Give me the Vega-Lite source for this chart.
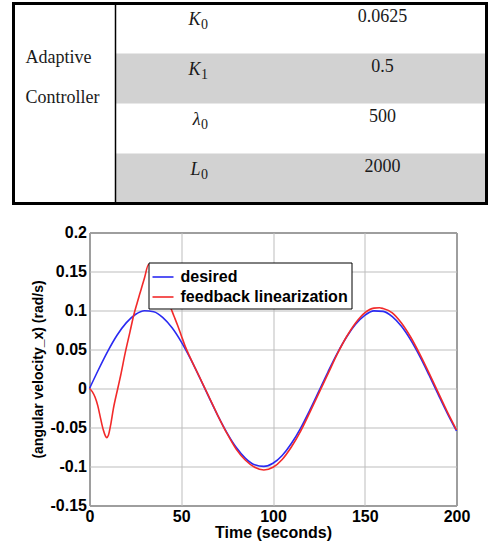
{
  "$schema": "https://vega.github.io/schema/vega-lite/v6.json",
  "background": "white",
  "padding": {"left": 11.5, "top": 1.5, "right": 0, "bottom": 0},
  "spacing": 18,
  "config": {"font": "Liberation Sans", "view": {"stroke": null}},
  "resolve": {"legend": {"color": "independent"}, "scale": {"x": "independent", "y": "independent"}},
  "datasets": {
    "params": [
      {"row": 1, "sym": "K", "sub": "0", "value": "0.0625"},
      {"row": 2, "sym": "K", "sub": "1", "value": "0.5"},
      {"row": 3, "sym": "λ", "sub": "0", "value": "500"},
      {"row": 4, "sym": "L", "sub": "0", "value": "2000"}
    ],
    "curves": [
      {"series": "desired", "t": 0, "v": 0},
      {"series": "desired", "t": 5, "v": 0.0247},
      {"series": "desired", "t": 10, "v": 0.0479},
      {"series": "desired", "t": 15, "v": 0.0682},
      {"series": "desired", "t": 20, "v": 0.0841},
      {"series": "desired", "t": 25, "v": 0.0949},
      {"series": "desired", "t": 30, "v": 0.0997},
      {"series": "desired", "t": 35, "v": 0.0984},
      {"series": "desired", "t": 40, "v": 0.0909},
      {"series": "desired", "t": 45, "v": 0.0778},
      {"series": "desired", "t": 50, "v": 0.0598},
      {"series": "desired", "t": 55, "v": 0.0382},
      {"series": "desired", "t": 60, "v": 0.0141},
      {"series": "desired", "t": 65, "v": -0.0108},
      {"series": "desired", "t": 70, "v": -0.0351},
      {"series": "desired", "t": 75, "v": -0.0572},
      {"series": "desired", "t": 80, "v": -0.0757},
      {"series": "desired", "t": 85, "v": -0.0895},
      {"series": "desired", "t": 90, "v": -0.0978},
      {"series": "desired", "t": 95, "v": -0.0999},
      {"series": "desired", "t": 100, "v": -0.0959},
      {"series": "desired", "t": 105, "v": -0.0859},
      {"series": "desired", "t": 110, "v": -0.0706},
      {"series": "desired", "t": 115, "v": -0.051},
      {"series": "desired", "t": 120, "v": -0.0279},
      {"series": "desired", "t": 125, "v": -0.0033},
      {"series": "desired", "t": 130, "v": 0.0215},
      {"series": "desired", "t": 135, "v": 0.045},
      {"series": "desired", "t": 140, "v": 0.0657},
      {"series": "desired", "t": 145, "v": 0.0823},
      {"series": "desired", "t": 150, "v": 0.0938},
      {"series": "desired", "t": 155, "v": 0.0995},
      {"series": "desired", "t": 160, "v": 0.0989},
      {"series": "desired", "t": 165, "v": 0.0923},
      {"series": "desired", "t": 170, "v": 0.0798},
      {"series": "desired", "t": 175, "v": 0.0624},
      {"series": "desired", "t": 180, "v": 0.0412},
      {"series": "desired", "t": 185, "v": 0.0174},
      {"series": "desired", "t": 190, "v": -0.0075},
      {"series": "desired", "t": 195, "v": -0.0319},
      {"series": "desired", "t": 200, "v": -0.0544},
      {"series": "feedback linearization", "t": 0, "v": 0},
      {"series": "feedback linearization", "t": 1.5, "v": -0.004},
      {"series": "feedback linearization", "t": 3, "v": -0.011},
      {"series": "feedback linearization", "t": 4.5, "v": -0.022},
      {"series": "feedback linearization", "t": 6, "v": -0.038},
      {"series": "feedback linearization", "t": 7.5, "v": -0.053},
      {"series": "feedback linearization", "t": 8.7, "v": -0.061},
      {"series": "feedback linearization", "t": 9.4, "v": -0.063},
      {"series": "feedback linearization", "t": 10.3, "v": -0.06},
      {"series": "feedback linearization", "t": 11.5, "v": -0.047},
      {"series": "feedback linearization", "t": 13, "v": -0.026},
      {"series": "feedback linearization", "t": 15.4, "v": 0},
      {"series": "feedback linearization", "t": 17, "v": 0.017},
      {"series": "feedback linearization", "t": 19.4, "v": 0.045},
      {"series": "feedback linearization", "t": 22, "v": 0.072},
      {"series": "feedback linearization", "t": 24, "v": 0.093},
      {"series": "feedback linearization", "t": 26, "v": 0.11},
      {"series": "feedback linearization", "t": 28, "v": 0.126},
      {"series": "feedback linearization", "t": 30, "v": 0.142},
      {"series": "feedback linearization", "t": 32.2, "v": 0.159},
      {"series": "feedback linearization", "t": 35, "v": 0.147},
      {"series": "feedback linearization", "t": 38, "v": 0.134},
      {"series": "feedback linearization", "t": 40, "v": 0.125},
      {"series": "feedback linearization", "t": 43.3, "v": 0.109},
      {"series": "feedback linearization", "t": 46, "v": 0.093},
      {"series": "feedback linearization", "t": 48, "v": 0.081},
      {"series": "feedback linearization", "t": 50, "v": 0.068},
      {"series": "feedback linearization", "t": 52, "v": 0.055},
      {"series": "feedback linearization", "t": 55, "v": 0.039},
      {"series": "feedback linearization", "t": 60, "v": 0.0145},
      {"series": "feedback linearization", "t": 65, "v": -0.01},
      {"series": "feedback linearization", "t": 70, "v": -0.035},
      {"series": "feedback linearization", "t": 75, "v": -0.058},
      {"series": "feedback linearization", "t": 80, "v": -0.078},
      {"series": "feedback linearization", "t": 85, "v": -0.092},
      {"series": "feedback linearization", "t": 90, "v": -0.101},
      {"series": "feedback linearization", "t": 95, "v": -0.1044},
      {"series": "feedback linearization", "t": 100, "v": -0.101},
      {"series": "feedback linearization", "t": 105, "v": -0.091},
      {"series": "feedback linearization", "t": 110, "v": -0.075},
      {"series": "feedback linearization", "t": 115, "v": -0.055},
      {"series": "feedback linearization", "t": 120, "v": -0.031},
      {"series": "feedback linearization", "t": 125, "v": -0.006},
      {"series": "feedback linearization", "t": 130, "v": 0.019},
      {"series": "feedback linearization", "t": 135, "v": 0.044},
      {"series": "feedback linearization", "t": 140, "v": 0.066},
      {"series": "feedback linearization", "t": 145, "v": 0.084},
      {"series": "feedback linearization", "t": 150, "v": 0.097},
      {"series": "feedback linearization", "t": 155, "v": 0.103},
      {"series": "feedback linearization", "t": 158, "v": 0.1035},
      {"series": "feedback linearization", "t": 160, "v": 0.1025},
      {"series": "feedback linearization", "t": 165, "v": 0.097},
      {"series": "feedback linearization", "t": 170, "v": 0.084},
      {"series": "feedback linearization", "t": 175, "v": 0.066},
      {"series": "feedback linearization", "t": 180, "v": 0.044},
      {"series": "feedback linearization", "t": 185, "v": 0.02},
      {"series": "feedback linearization", "t": 190, "v": -0.005},
      {"series": "feedback linearization", "t": 195, "v": -0.03},
      {"series": "feedback linearization", "t": 200, "v": -0.053}
    ]
  },
  "vconcat": [
    {
      "width": 397,
      "height": 200,
      "data": {"name": "params"},
      "encoding": {
        "x": {"datum": 0, "type": "quantitative", "scale": {"domain": [76, 473], "nice": false, "zero": false}, "axis": null},
        "y": {"field": "row", "type": "ordinal", "scale": {"domain": [1, 2, 3, 4], "paddingInner": 0, "paddingOuter": 0}, "axis": null}
      },
      "layer": [
        {
          "transform": [{"filter": "datum.row % 2 == 0"}],
          "mark": {"type": "rect", "fill": "#d2d2d2"},
          "encoding": {"x": {"datum": 102, "type": "quantitative"}, "x2": {"datum": 473}}
        },
        {
          "data": {"values": [{"part": "divider"}]},
          "mark": {"type": "rule", "stroke": "black", "strokeWidth": 1.5},
          "encoding": {"x": {"datum": 102, "type": "quantitative"}, "y": null}
        },
        {
          "mark": {"type": "text", "font": "Liberation Serif", "fontSize": 18, "fontStyle": "italic", "align": "right", "baseline": "middle", "color": "#1a1a1a"},
          "encoding": {"x": {"datum": 187, "type": "quantitative"}, "y": {"field": "row", "type": "ordinal", "bandPosition": 0.32}, "text": {"field": "sym"}}
        },
        {
          "mark": {"type": "text", "font": "Liberation Serif", "fontSize": 14, "align": "left", "baseline": "middle", "dy": 5, "color": "#1a1a1a"},
          "encoding": {"x": {"datum": 187.5, "type": "quantitative"}, "y": {"field": "row", "type": "ordinal", "bandPosition": 0.32}, "text": {"field": "sub"}}
        },
        {
          "mark": {"type": "text", "font": "Liberation Serif", "fontSize": 18, "align": "center", "baseline": "middle", "color": "#1a1a1a"},
          "encoding": {"x": {"datum": 369, "type": "quantitative"}, "y": {"field": "row", "type": "ordinal", "bandPosition": 0.26}, "text": {"field": "value"}}
        },
        {
          "data": {"values": [{"row": 2, "label": "Adaptive\nController"}]},
          "mark": {"type": "text", "font": "Liberation Serif", "fontSize": 18, "align": "left", "baseline": "middle", "lineBreak": "\n", "lineHeight": 40, "color": "#1a1a1a"},
          "encoding": {"x": {"datum": 12, "type": "quantitative"}, "y": {"field": "row", "type": "ordinal", "bandPosition": 0.086}, "text": {"field": "label"}}
        },
        {
          "data": {"values": [{"part": "frame"}]},
          "mark": {"type": "rect", "filled": false, "stroke": "black", "strokeWidth": 3},
          "encoding": {"x": {"datum": 0, "type": "quantitative"}, "x2": {"datum": 473}, "y": null}
        }
      ]
    },
    {
      "width": 367,
      "height": 273,
      "view": {"stroke": "black", "strokeWidth": 1},
      "data": {"name": "curves"},
      "encoding": {
        "x": {
          "field": "t", "type": "quantitative",
          "scale": {"domain": [0, 200], "nice": false},
          "axis": {"values": [0, 50, 100, 150, 200], "title": "Time (seconds)", "grid": true, "gridColor": "#bdbdbd", "gridOpacity": 1, "ticks": false, "domain": false, "labelFlush": false, "labelOverlap": false, "labelFontSize": 16, "labelFontWeight": "bold", "labelColor": "black", "labelPadding": 3, "titleFontSize": 16, "titleFontWeight": "bold", "titleColor": "black", "titlePadding": 0}
        },
        "y": {
          "field": "v", "type": "quantitative",
          "scale": {"domain": [-0.15, 0.2], "nice": false, "zero": false},
          "axis": {"values": [-0.15, -0.1, -0.05, 0, 0.05, 0.1, 0.15, 0.2], "labelExpr": "datum.value + ''", "title": "(angular velocity_x) (rad/s)", "grid": true, "gridColor": "#bdbdbd", "gridOpacity": 1, "ticks": false, "domain": false, "labelFlush": false, "labelOverlap": false, "labelFontSize": 16, "labelFontWeight": "bold", "labelColor": "black", "labelPadding": 3, "titleFontSize": 14, "titleFontWeight": "bold", "titleColor": "black", "titlePadding": 5}
        },
        "color": {
          "field": "series", "type": "nominal",
          "scale": {"domain": ["desired", "feedback linearization"], "range": ["#2a2af2", "#f22a2a"]},
          "legend": {"orient": "none", "legendX": 59, "legendY": 30, "title": null, "fillColor": "white", "strokeColor": "black", "padding": 3, "rowPadding": -5, "symbolType": "stroke", "symbolSize": 441, "symbolStrokeWidth": 1.6, "labelFontSize": 16, "labelFontWeight": "bold", "labelColor": "black", "labelOffset": 6, "labelLimit": 300}
        }
      },
      "layer": [
        {"transform": [{"filter": "datum.series == 'desired'"}], "mark": {"type": "line", "strokeWidth": 1.6, "interpolate": "monotone"}},
        {"transform": [{"filter": "datum.series != 'desired'"}], "mark": {"type": "line", "strokeWidth": 1.6, "interpolate": "monotone"}}
      ]
    }
  ]
}
